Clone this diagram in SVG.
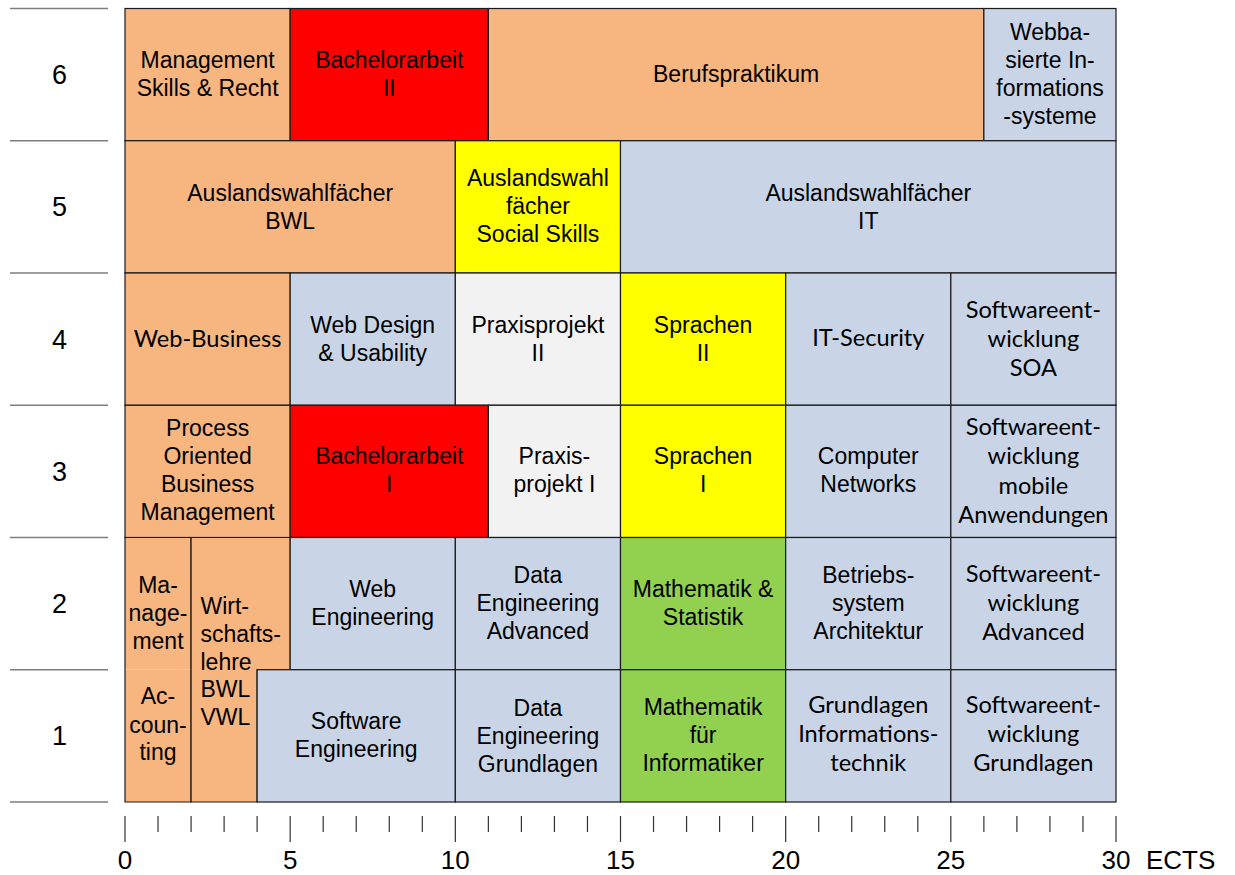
<svg xmlns="http://www.w3.org/2000/svg" width="1235" height="875" viewBox="0 0 1235 875">
<style>
.c{stroke:#1a1a1a;stroke-width:1.2}
.o{fill:#f7b580}.b{fill:#c9d5e6}.r{fill:#ff0000}.y{fill:#ffff00}.g{fill:#92d050}.w{fill:#f2f2f2}
text{fill:#000}
.a{font-family:"Liberation Sans",Arial,sans-serif;font-size:23px;text-anchor:middle}
.l{font-family:Lato,"Noto Sans",sans-serif;font-size:23.6px;text-anchor:middle}
.ax{font-family:"Liberation Sans",Arial,sans-serif;font-size:26px;text-anchor:middle}
.rl{font-family:"Liberation Sans",Arial,sans-serif;font-size:27px;text-anchor:middle}
.hl{stroke:#7f7f7f;stroke-width:1.6;fill:none}
.tk{stroke:#333;stroke-width:1.2;fill:none}
</style>
<rect width="1235" height="875" fill="#fff"/>
<g id="row-lines">
<path class="hl" d="M10 8.5H108M10 140.75H108M10 273H108M10 405.25H108M10 537.5H108M10 669.75H108M10 802H108"/>
</g>
<g id="row-labels">
<text class="rl" x="59.5" y="84">6</text>
<text class="rl" x="59.5" y="216.3">5</text>
<text class="rl" x="59.5" y="348.6">4</text>
<text class="rl" x="59.5" y="480.8">3</text>
<text class="rl" x="59.5" y="613">2</text>
<text class="rl" x="59.5" y="745.4">1</text>
</g>
<!-- Semester 6 -->
<g id="management-skills-recht"><rect class="c o" x="125" y="8.5" width="165.17" height="132.25"/><text class="a"><tspan x="207.6" y="68">Management</tspan><tspan x="207.6" y="96">Skills &amp; Recht</tspan></text></g>
<g id="bachelorarbeit-2"><rect class="c r" x="290.17" y="8.5" width="198.2" height="132.25"/><text class="a"><tspan x="389.3" y="68">Bachelorarbeit</tspan><tspan x="389.3" y="96">II</tspan></text></g>
<g id="berufspraktikum"><rect class="c o" x="488.37" y="8.5" width="495.5" height="132.25"/><text class="a" x="736.1" y="82">Berufspraktikum</text></g>
<g id="webbasierte-is"><rect class="c b" x="983.87" y="8.5" width="132.13" height="132.25"/><text class="a"><tspan x="1050" y="40">Webba-</tspan><tspan x="1050" y="68">sierte In-</tspan><tspan x="1050" y="96">formations</tspan><tspan x="1050" y="124">-systeme</tspan></text></g>
<!-- Semester 5 -->
<g id="auslandswahl-bwl"><rect class="c o" x="125" y="140.75" width="330.33" height="132.25"/><text class="a"><tspan x="290.2" y="200.5">Auslandswahlfächer</tspan><tspan x="290.2" y="228.5">BWL</tspan></text></g>
<g id="auslandswahl-social"><rect class="c y" x="455.33" y="140.75" width="165.17" height="132.25"/><text class="a"><tspan x="537.9" y="186">Auslandswahl</tspan><tspan x="537.9" y="214">fächer</tspan><tspan x="537.9" y="242">Social Skills</tspan></text></g>
<g id="auslandswahl-it"><rect class="c b" x="620.5" y="140.75" width="495.5" height="132.25"/><text class="a"><tspan x="868.3" y="200.5">Auslandswahlfächer</tspan><tspan x="868.3" y="228.5">IT</tspan></text></g>
<!-- Semester 4 -->
<g id="web-business"><rect class="c o" x="125" y="273" width="165.17" height="132.25"/><text class="l" x="207.6" y="346.5">Web-Business</text></g>
<g id="web-design"><rect class="c b" x="290.17" y="273" width="165.17" height="132.25"/><text class="a"><tspan x="372.7" y="332.5">Web Design</tspan><tspan x="372.7" y="360.5">&amp; Usability</tspan></text></g>
<g id="praxisprojekt-2"><rect class="c w" x="455.33" y="273" width="165.17" height="132.25"/><text class="a"><tspan x="537.9" y="332.5">Praxisprojekt</tspan><tspan x="537.9" y="360.5">II</tspan></text></g>
<g id="sprachen-2"><rect class="c y" x="620.5" y="273" width="165.17" height="132.25"/><text class="a"><tspan x="703.1" y="332.5">Sprachen</tspan><tspan x="703.1" y="360.5">II</tspan></text></g>
<g id="it-security"><rect class="c b" x="785.67" y="273" width="165.17" height="132.25"/><text class="l" x="868.3" y="346">IT-Security</text></g>
<g id="swe-soa"><rect class="c b" x="950.83" y="273" width="165.17" height="132.25"/><text class="l"><tspan x="1033.4" y="318">Softwareent-</tspan><tspan x="1033.4" y="347">wicklung</tspan><tspan x="1033.4" y="376">SOA</tspan></text></g>
<!-- Semester 3 -->
<g id="process-oriented"><rect class="c o" x="125" y="405.25" width="165.17" height="132.25"/><text class="a"><tspan x="207.6" y="436">Process</tspan><tspan x="207.6" y="464">Oriented</tspan><tspan x="207.6" y="492">Business</tspan><tspan x="207.6" y="520">Management</tspan></text></g>
<g id="bachelorarbeit-1"><rect class="c r" x="290.17" y="405.25" width="198.2" height="132.25"/><text class="a"><tspan x="389.3" y="464">Bachelorarbeit</tspan><tspan x="389.3" y="492">I</tspan></text></g>
<g id="praxisprojekt-1"><rect class="c w" x="488.37" y="405.25" width="132.13" height="132.25"/><text class="a"><tspan x="554.4" y="464">Praxis-</tspan><tspan x="554.4" y="492">projekt I</tspan></text></g>
<g id="sprachen-1"><rect class="c y" x="620.5" y="405.25" width="165.17" height="132.25"/><text class="a"><tspan x="703.1" y="464">Sprachen</tspan><tspan x="703.1" y="492">I</tspan></text></g>
<g id="computer-networks"><rect class="c b" x="785.67" y="405.25" width="165.17" height="132.25"/><text class="a"><tspan x="868.3" y="464">Computer</tspan><tspan x="868.3" y="492">Networks</tspan></text></g>
<g id="swe-mobile"><rect class="c b" x="950.83" y="405.25" width="165.17" height="132.25"/><text class="l"><tspan x="1033.4" y="435">Softwareent-</tspan><tspan x="1033.4" y="464">wicklung</tspan><tspan x="1033.4" y="494">mobile</tspan><tspan x="1033.4" y="523">Anwendungen</tspan></text></g>
<!-- Semester 2 and 1 -->
<g id="management"><rect class="o" x="125" y="537.5" width="66.07" height="132.25"/><path class="c" fill="none" d="M125 669.75V537.5H191.07V669.75"/><text class="a"><tspan x="158" y="593">Ma-</tspan><tspan x="158" y="621">nage-</tspan><tspan x="158" y="648.5">ment</tspan></text></g>
<g id="accounting"><rect class="o" x="125" y="669.75" width="66.07" height="132.25"/><path class="c" fill="none" d="M125 669.75V802H191.07V669.75"/><text class="a"><tspan x="158" y="704">Ac-</tspan><tspan x="158" y="732.5">coun-</tspan><tspan x="158" y="760">ting</tspan></text></g>
<g id="wirtschaftslehre"><path class="c o" d="M191.07 537.5H290.17V669.75H257.13V802H191.07Z"/><text class="a" style="text-anchor:start"><tspan x="200.5" y="614">Wirt-</tspan><tspan x="200.5" y="642">schafts-</tspan><tspan x="200.5" y="669.5">lehre</tspan><tspan x="200.5" y="697">BWL</tspan><tspan x="200.5" y="725">VWL</tspan></text></g>
<g id="web-engineering"><rect class="c b" x="290.17" y="537.5" width="165.17" height="132.25"/><text class="a"><tspan x="372.7" y="597">Web</tspan><tspan x="372.7" y="625">Engineering</tspan></text></g>
<g id="data-eng-advanced"><rect class="c b" x="455.33" y="537.5" width="165.17" height="132.25"/><text class="a"><tspan x="537.9" y="583">Data</tspan><tspan x="537.9" y="611">Engineering</tspan><tspan x="537.9" y="639">Advanced</tspan></text></g>
<g id="mathe-statistik"><rect class="c g" x="620.5" y="537.5" width="165.17" height="132.25"/><text class="a"><tspan x="703.1" y="597">Mathematik &amp;</tspan><tspan x="703.1" y="625">Statistik</tspan></text></g>
<g id="betriebssystem"><rect class="c b" x="785.67" y="537.5" width="165.17" height="132.25"/><text class="a"><tspan x="868.3" y="583">Betriebs-</tspan><tspan x="868.3" y="611">system</tspan><tspan x="868.3" y="639">Architektur</tspan></text></g>
<g id="swe-advanced"><rect class="c b" x="950.83" y="537.5" width="165.17" height="132.25"/><text class="l"><tspan x="1033.4" y="582">Softwareent-</tspan><tspan x="1033.4" y="611">wicklung</tspan><tspan x="1033.4" y="640">Advanced</tspan></text></g>
<g id="software-engineering"><rect class="c b" x="257.13" y="669.75" width="198.2" height="132.25"/><text class="a"><tspan x="356.2" y="729">Software</tspan><tspan x="356.2" y="757">Engineering</tspan></text></g>
<g id="data-eng-grundlagen"><rect class="c b" x="455.33" y="669.75" width="165.17" height="132.25"/><text class="a"><tspan x="537.9" y="715.5">Data</tspan><tspan x="537.9" y="743.5">Engineering</tspan><tspan x="537.9" y="771.5">Grundlagen</tspan></text></g>
<g id="mathe-informatiker"><rect class="c g" x="620.5" y="669.75" width="165.17" height="132.25"/><text class="a"><tspan x="703.1" y="715">Mathematik</tspan><tspan x="703.1" y="743">für</tspan><tspan x="703.1" y="771">Informatiker</tspan></text></g>
<g id="grundlagen-it"><rect class="c b" x="785.67" y="669.75" width="165.17" height="132.25"/><text class="l"><tspan x="868.3" y="713">Grundlagen</tspan><tspan x="868.3" y="742">Informations-</tspan><tspan x="868.3" y="771">technik</tspan></text></g>
<g id="swe-grundlagen"><rect class="c b" x="950.83" y="669.75" width="165.17" height="132.25"/><text class="l"><tspan x="1033.4" y="713">Softwareent-</tspan><tspan x="1033.4" y="742">wicklung</tspan><tspan x="1033.4" y="771">Grundlagen</tspan></text></g>
<g id="axis">
<path class="tk" d="M125 816V842M290.17 816V842M455.33 816V842M620.5 816V842M785.67 816V842M950.83 816V842M1116 816V842"/>
<path class="tk" d="M158.03 816V832M191.07 816V832M224.1 816V832M257.13 816V832M323.2 816V832M356.23 816V832M389.27 816V832M422.3 816V832M488.37 816V832M521.4 816V832M554.43 816V832M587.47 816V832M653.53 816V832M686.57 816V832M719.6 816V832M752.63 816V832M818.7 816V832M851.73 816V832M884.77 816V832M917.8 816V832M983.87 816V832M1016.9 816V832M1049.93 816V832M1082.97 816V832"/>
<text class="ax" x="125" y="869">0</text>
<text class="ax" x="290.17" y="869">5</text>
<text class="ax" x="455.33" y="869">10</text>
<text class="ax" x="620.5" y="869">15</text>
<text class="ax" x="785.67" y="869">20</text>
<text class="ax" x="950.83" y="869">25</text>
<text class="ax" x="1116" y="869">30</text>
<text class="ax" x="1146" y="869" style="text-anchor:start">ECTS</text>
</g>
</svg>
